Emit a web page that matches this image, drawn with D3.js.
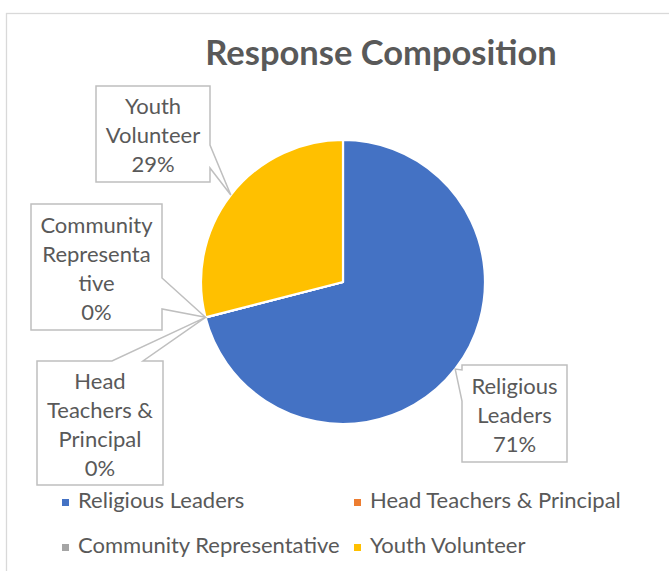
<!DOCTYPE html>
<html>
<head>
<meta charset="utf-8">
<script src="https://cdn.jsdelivr.net/npm/d3@7"></script>
<style>
  html, body { margin: 0; padding: 0; background: #fff; }
  svg { display: block; font-family: Lato, "Open Sans", sans-serif; }
</style>
</head>
<body>
<svg id="chart" width="669" height="571"></svg>
<script>
// Respondent groups and their share of responses (%)
const categories = ["Religious Leaders", "Head Teachers & Principal", "Community Representative", "Youth Volunteer"];
const values = [71, 0, 0, 29];
const colors = ["#4472C4", "#ED7D31", "#A5A5A5", "#FFC000"];
// Data-label text, split across lines as in the callouts
const labelLines = [
  ["Religious", "Leaders"],
  ["Head", "Teachers &", "Principal"],
  ["Community", "Representa", "tive"],
  ["Youth", "Volunteer"]
];
const title = "Response Composition";

const svg = d3.select("#chart");
const textColor = "#595959";

// chart area frame
svg.append("rect")
  .attr("x", 6.5).attr("y", 13.5)
  .attr("width", 700).attr("height", 600)
  .attr("fill", "#fff").attr("stroke", "#d9d9d9").attr("stroke-width", 1.3);

// title
svg.append("text")
  .attr("x", 381).attr("y", 65)
  .attr("text-anchor", "middle")
  .attr("font-weight", "bold")
  .attr("font-size", 34.5)
  .attr("fill", textColor)
  .text(title);

// pie
const cx = 343, cy = 282, radius = 142;
const pie = d3.pie().sort(null).value(d => d).startAngle(0).endAngle(2 * Math.PI);
const arcs = pie(values);
const arc = d3.arc().innerRadius(0).outerRadius(radius);

const g = svg.append("g").attr("transform", `translate(${cx},${cy})`);
g.selectAll("path.slice")
  .data(arcs)
  .join("path")
  .attr("class", "slice")
  .attr("d", arc)
  .attr("fill", (d, i) => colors[i])
  .attr("stroke", "#fff")
  .attr("stroke-width", 2.2)
  .attr("stroke-linejoin", "round");

// callout boxes: box geometry and the edge where the pointer leaves the box
const boxes = [
  { x: 462, y: 365, w: 105, h: 97, side: "left", b0: 370, b1: 401 },
  { x: 37, y: 361, w: 126, h: 124, side: "top", b0: 112, b1: 143 },
  { x: 31, y: 204, w: 131, h: 126, side: "right", b0: 278, b1: 309 },
  { x: 96, y: 86, w: 114, h: 96, side: "right", b0: 145, b1: 168 }
];

function tipOf(d) {
  const a = (d.startAngle + d.endAngle) / 2;
  return [cx + radius * Math.sin(a), cy - radius * Math.cos(a)];
}

function calloutPath(b, tip) {
  const L = b.x, T = b.y, R = b.x + b.w, B = b.y + b.h;
  const p = d3.path();
  p.moveTo(L, T);
  if (b.side === "top") {
    p.lineTo(b.b0, T); p.lineTo(tip[0], tip[1]); p.lineTo(b.b1, T);
  }
  p.lineTo(R, T);
  if (b.side === "right") {
    p.lineTo(R, b.b0); p.lineTo(tip[0], tip[1]); p.lineTo(R, b.b1);
  }
  p.lineTo(R, B);
  p.lineTo(L, B);
  if (b.side === "left") {
    p.lineTo(L, b.b1); p.lineTo(tip[0], tip[1]); p.lineTo(L, b.b0);
  }
  p.closePath();
  return p.toString();
}

const pct = d3.format(".0%");
const lineH = 29;
arcs.forEach((d, i) => {
  const b = boxes[i];
  const tip = tipOf(d);
  svg.append("path")
    .attr("d", calloutPath(b, tip))
    .attr("fill", "#fff")
    .attr("stroke", "#bfbfbf")
    .attr("stroke-width", 1.5);
  const lines = labelLines[i].concat([pct(values[i] / d3.sum(values))]);
  const total = lines.length * lineH;
  const top = b.y + (b.h - total) / 2;
  const t = svg.append("text")
    .attr("text-anchor", "middle")
    .attr("font-size", 22)
    .attr("fill", textColor);
  lines.forEach((s, k) => {
    t.append("tspan")
      .attr("x", b.x + b.w / 2)
      .attr("y", top + k * lineH + 23.5)
      .text(s);
  });
});

// legend
const legendPos = [[62, 508], [354, 508], [62, 553], [354, 553]];
categories.forEach((c, i) => {
  const [lx, ly] = legendPos[i];
  svg.append("rect")
    .attr("x", lx).attr("y", ly - 9)
    .attr("width", 7).attr("height", 7)
    .attr("fill", colors[i]);
  svg.append("text")
    .attr("x", lx + 16).attr("y", ly)
    .attr("font-size", 22)
    .attr("fill", textColor)
    .text(c);
});
</script>
</body>
</html>
